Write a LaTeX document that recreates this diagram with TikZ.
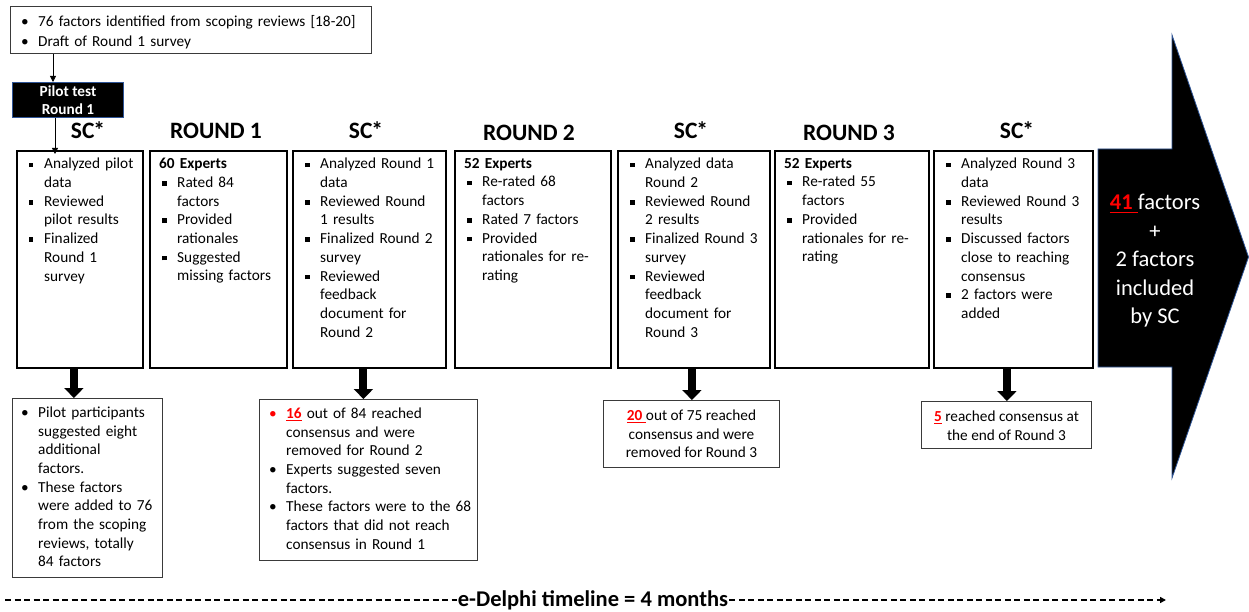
\documentclass[tikz,border=0pt]{standalone}
\usepackage{fontspec}
\setmainfont{Carlito}
\usetikzlibrary{arrows.meta}

\definecolor{hl}{HTML}{FF0000}
\definecolor{edgeblue}{HTML}{2F5597}
\definecolor{notegray}{HTML}{3A3A3A}

% list helpers: square and round bullets with hanging indent
% (\sqlead / \dotlead open the first item of a list, \sqitem / \dotitem the next ones)
\newcommand\sqb{\rule[1.7pt]{4.6pt}{4.6pt}}
\newcommand\sqlead{\noindent\hangindent=18pt\hangafter=1\makebox[18pt][l]{\hspace{2.7pt}\sqb}}
\newcommand\sqitem{\par\sqlead}
\newcommand\dotlead[1][black]{\noindent\hangindent=17pt\hangafter=1\makebox[17pt][l]{\textcolor{#1}{\textbullet}}}
\newcommand\dotitem[1][black]{\par\dotlead[#1]}
% red, bold, underlined figure
\newcommand\redul[1]{{\color{hl}\bfseries\setbox0\hbox{#1}\rlap{\rule[-0.17em]{\wd0}{0.08em}}\box0}}
% steering committee heading
\newcommand\sctitle{SC\kern-1.2pt*}

\begin{document}
\begin{tikzpicture}[x=1pt,y=-1pt,
  body/.style={font=\fontsize{15.3}{18.7}\selectfont},
  mainbox/.style={draw=black, line width=1.8pt, anchor=north west, inner sep=0pt, minimum height=217pt},
  txt/.style={anchor=north west, inner sep=0pt, text width=340pt, align=left, body},
  ctxt/.style={anchor=north, inner sep=0pt, align=center, body},
  title/.style={anchor=base, font=\fontsize{23.5}{28}\selectfont\bfseries},
  notebox/.style={draw=notegray, line width=1pt, anchor=north west, inner sep=0pt},
  thinarr/.style={line width=0.8pt, -{Triangle[length=6pt,width=6pt]}},
  fatarr/.style={line width=8pt, -{Triangle[length=10pt,width=19pt]}},
  dashline/.style={line width=1.6pt, dash pattern=on 6pt off 3.5pt}
]
\useasboundingbox (0,0) rectangle (1249,612);

% starting material and pilot test
\node[notebox, minimum width=361pt, minimum height=47pt] (src) at (10,6) {};
\node[txt, font=\fontsize{15.3}{19.5}\selectfont] (srct) at ([shift={(11,9.5)}]src.north west)
  {\dotlead 76 factors identified from scoping reviews [18-20]\dotitem Draft of Round 1 survey\par};
\node[draw=edgeblue, fill=black, line width=1pt, minimum width=111pt, minimum height=35pt,
  anchor=north west, inner sep=0pt, text=white, align=center,
  font=\fontsize{15.3}{18}\selectfont\bfseries] (pilot) at (12,82) {Pilot test\\Round 1};

% column titles
\node[title] (h1) at (88,139) {\sctitle};
\node[title] (h2) at (216,139) {ROUND 1};
\node[title] (h3) at (366,139) {\sctitle};
\node[title] (h4) at (529,141) {ROUND 2};
\node[title] (h5) at (691,139) {\sctitle};
\node[title] (h6) at (849,141) {ROUND 3};
\node[title] (h7) at (1017,139) {\sctitle};

% step boxes
\node[mainbox, minimum width=126pt] (box1) at (16,150) {};
\node[mainbox, minimum width=137pt] (box2) at (149,150) {};
\node[mainbox, minimum width=153pt] (box3) at (292,150) {};
\node[mainbox, minimum width=156pt] (box4) at (454,150) {};
\node[mainbox, minimum width=152pt] (box5) at (617,150) {};
\node[mainbox, minimum width=154pt] (box6) at (774,150) {};
\node[mainbox, minimum width=159pt] (box7) at (933,150) {};

\node[txt] (t1) at ([shift={(10,8)}]box1.north west)
  {\sqlead Analyzed pilot\newline data\sqitem Reviewed\newline pilot results\sqitem Finalized\newline Round 1\newline survey\par};
\node[txt] (t2) at ([shift={(10,8)}]box2.north west)
  {\textbf{60 Experts}\sqitem Rated 84\newline factors\sqitem Provided\newline rationales\sqitem Suggested\newline missing factors\par};
\node[txt] (t3) at ([shift={(10,8)}]box3.north west)
  {\sqlead Analyzed Round 1\newline data\sqitem Reviewed Round\newline 1 results\sqitem Finalized Round 2\newline survey\sqitem Reviewed\newline feedback\newline document for\newline Round 2\par};
\node[txt] (t4) at ([shift={(10,8)}]box4.north west)
  {\textbf{52 Experts}\sqitem Re-rated 68\newline factors\sqitem Rated 7 factors\sqitem Provided\newline rationales for re-\newline rating\par};
\node[txt] (t5) at ([shift={(10,8)}]box5.north west)
  {\sqlead Analyzed data\newline Round 2\sqitem Reviewed Round\newline 2 results\sqitem Finalized Round 3\newline survey\sqitem Reviewed\newline feedback\newline document for\newline Round 3\par};
\node[txt] (t6) at ([shift={(10,8)}]box6.north west)
  {\textbf{52 Experts}\sqitem Re-rated 55\newline factors\sqitem Provided\newline rationales for re-\newline rating\par};
\node[txt] (t7) at ([shift={(10,8)}]box7.north west)
  {\sqlead Analyzed Round 3\newline data\sqitem Reviewed Round 3\newline results\sqitem Discussed factors\newline close to reaching\newline consensus\sqitem 2 factors were\newline added\par};

% final result arrow
\fill[black] (1098,149) -- (1172,149) -- (1172,35) -- (1248.5,257) -- (1172,478) -- (1172,367) -- (1098,367) -- cycle;
\draw[edgeblue, line width=0.8pt] (1098,149) -- (1172,149) -- (1172,35) -- (1248.5,257) -- (1172,478) -- (1172,367) -- (1098,367) -- cycle;
\node[anchor=north, inner sep=0pt, align=center, text=white, font=\fontsize{22.5}{28.5}\selectfont] (result) at (1155,194)
  {\redul{41\ }factors\\+\\2 factors\\included\\by SC};

% outcome notes
\node[notebox, minimum width=150pt, minimum height=179pt] (n1) at (12,398) {};
\node[txt] (n1t) at ([shift={(9,8.5)}]n1.north west)
  {\dotlead Pilot participants\newline suggested eight\newline additional\newline factors.\dotitem These factors\newline were added to 76\newline from the scoping\newline reviews, totally\newline 84 factors\par};
\node[notebox, minimum width=218pt, minimum height=161pt] (n3) at (259,399) {};
\node[txt] (n3t) at ([shift={(10,8.5)}]n3.north west)
  {\dotlead[hl]\redul{16} out of 84 reached\newline consensus and were\newline removed for Round 2\dotitem Experts suggested seven\newline factors.\dotitem These factors were to the 68\newline factors that did not reach\newline consensus in Round 1\par};
\node[notebox, minimum width=176pt, minimum height=67pt] (n5) at (603,400) {};
\node[ctxt] (n5t) at ([yshift=-9.5pt]n5.north)
  {\redul{20\ }out of 75 reached\\consensus and were\\removed for Round 3};
\node[notebox, minimum width=170pt, minimum height=47pt] (n7) at (921,401) {};
\node[ctxt] (n7t) at ([yshift=-9.5pt]n7.north)
  {\redul{5} reached consensus at\\the end of Round 3};

% connectors
\draw[thinarr] ([xshift=43pt]src.south west) -- ([xshift=43pt]src.south west |- pilot.north);
\draw[thinarr] ([xshift=43pt]pilot.south west) -- ([shift={(43pt,-4pt)}]pilot.south west |- box1.north);
\draw[fatarr] ([xshift=-6pt]box1.south) -- ([xshift=-6pt]box1.south |- n1.north);
\draw[fatarr] ([xshift=-6pt]box3.south) -- ([xshift=-6pt]box3.south |- n3.north);
\draw[fatarr] ([xshift=-2pt]box5.south) -- ([xshift=-2pt]box5.south |- n5.north);
\draw[fatarr] ([xshift=-6.5pt]box7.south) -- ([xshift=-6.5pt]box7.south |- n7.north);

% timeline
\coordinate (tlstart) at (5,600);
\coordinate (tlend) at (1166,600);
\node[inner sep=1pt, font=\fontsize{22.5}{26}\selectfont\bfseries] (tl) at (593,600) {e-Delphi timeline = 4 months};
\draw[dashline] (tlstart) -- (tl.west);
\draw[dashline, -{Triangle[length=6pt,width=6pt]}] (tl.east) -- (tlend);
\end{tikzpicture}
\end{document}
